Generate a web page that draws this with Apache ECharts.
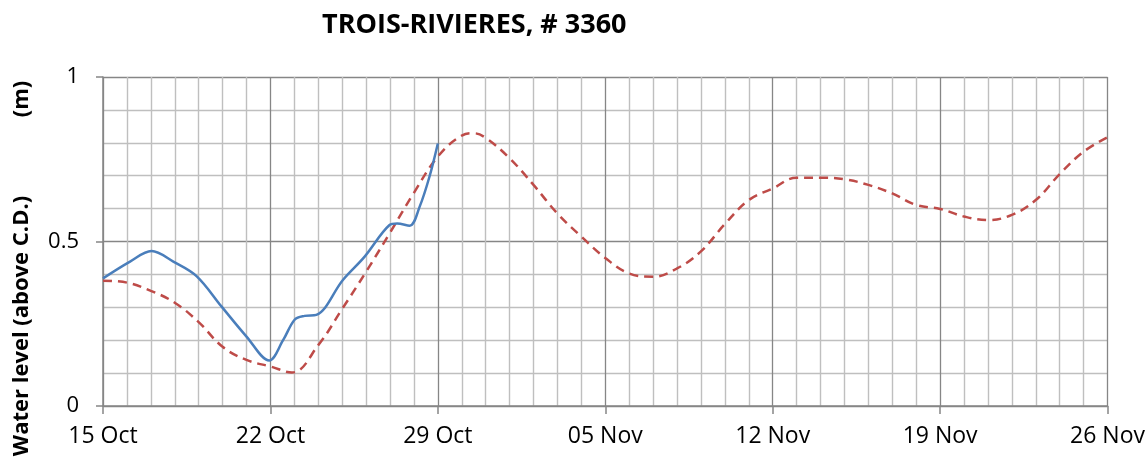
<!DOCTYPE html>
<html>
<head>
<meta charset="utf-8">
<script src="https://cdn.jsdelivr.net/npm/echarts@6/dist/echarts.min.js"></script>
<style>
html,body{margin:0;padding:0;background:#fff;}
#chart{width:1148px;height:461px;}
</style>
</head>
<body>
<div id="chart"></div>
<script>
// Tick labels (every 7 days starting 15 Oct)
const xTickLabels = ['15 Oct', '22 Oct', '29 Oct', '05 Nov', '12 Nov', '19 Nov', '26 Nov'];

// Observed water level (days since 15 Oct, metres above C.D.)
const obsDays   = [0, 1.13, 2.03, 2.94, 3.91, 4.96, 6.0, 6.95, 7.53, 8.02, 8.43, 8.92, 10.03, 10.94, 11.98, 12.3, 12.82, 13.24, 13.65, 14.0];
const obsLevels = [0.388, 0.439, 0.471, 0.439, 0.395, 0.302, 0.211, 0.138, 0.2, 0.263, 0.274, 0.277, 0.383, 0.454, 0.55, 0.555, 0.548, 0.606, 0.697, 0.798];

// Predicted water level (days since 15 Oct)
const predDays   = [0, 1, 2, 3, 4, 5, 6, 7, 7.9, 9, 10, 11, 12, 13, 14, 15, 15.5, 16, 17, 18, 19, 20, 21, 22, 23, 24, 25, 26, 27, 28, 29, 30, 31, 32, 33, 34, 35, 36, 37, 38, 39, 40, 41, 42];
const predLevels = [0.381, 0.375, 0.35, 0.314, 0.255, 0.18, 0.14, 0.12, 0.102, 0.185, 0.295, 0.408, 0.527, 0.648, 0.758, 0.822, 0.829, 0.815, 0.753, 0.672, 0.585, 0.515, 0.45, 0.403, 0.393, 0.418, 0.47, 0.553, 0.626, 0.661, 0.694, 0.694, 0.689, 0.672, 0.646, 0.611, 0.599, 0.576, 0.565, 0.581, 0.626, 0.705, 0.773, 0.817];

const titleText = 'TROIS-RIVIERES, # 3360';
const yTitle = 'Water level (above C.D.)';
const yUnit = '(m)';

const chart = echarts.init(document.getElementById('chart'), null, {renderer: 'canvas'});
const pair = (xs, ys) => xs.map((x, i) => [x, ys[i]]);

const majorColor = '#868686';
const minorColor = '#BFBFBF';
const font = '"Open Sans", "Liberation Sans", sans-serif';

chart.setOption({
  animation: false,
  backgroundColor: '#ffffff',
  title: {
    text: titleText,
    left: 317,
    top: 7,
    textStyle: {fontFamily: font, fontWeight: 'bold', fontSize: 27, color: '#000'}
  },
  graphic: [
    {
      type: 'text', x: 22, y: 326, rotation: Math.PI / 2,
      style: {text: yTitle, font: 'bold 22px ' + font, fill: '#000', align: 'center', verticalAlign: 'middle'}
    },
    {
      type: 'text', x: 22, y: 99, rotation: Math.PI / 2,
      style: {text: yUnit, font: 'bold 22px ' + font, fill: '#000', align: 'center', verticalAlign: 'middle'}
    }
  ],
  grid: {left: 103, right: 39, top: 77, bottom: 55, containLabel: false},
  xAxis: {
    type: 'value', min: 0, max: 42, interval: 7,
    axisLine: {show: true, onZero: false, lineStyle: {color: majorColor, width: 1.5}},
    axisTick: {show: true, length: 8, lineStyle: {color: majorColor, width: 1.5}},
    axisLabel: {formatter: v => xTickLabels[Math.round(v / 7)], fontFamily: font, fontSize: 23, color: '#000', margin: 19},
    splitLine: {show: true, lineStyle: {color: majorColor, width: 1.3}},
    minorTick: {show: false, splitNumber: 7},
    minorSplitLine: {show: true, lineStyle: {color: minorColor, width: 1.4}}
  },
  yAxis: {
    type: 'value', min: 0, max: 1, interval: 0.5,
    axisLine: {show: true, lineStyle: {color: majorColor, width: 1.5}},
    axisTick: {show: true, length: 7, lineStyle: {color: majorColor, width: 1.5}},
    axisLabel: {formatter: v => String(v), fontFamily: font, fontSize: 22, color: '#000', margin: 24},
    splitLine: {show: true, lineStyle: {color: majorColor, width: 1.3}},
    minorTick: {show: false, splitNumber: 5},
    minorSplitLine: {show: true, lineStyle: {color: minorColor, width: 1.4}}
  },
  series: [
    {
      name: 'Observed', type: 'line', data: pair(obsDays, obsLevels),
      showSymbol: false, smooth: 0.35, z: 3,
      lineStyle: {color: '#4A7EBB', width: 2.5}
    },
    {
      name: 'Predicted', type: 'line', data: pair(predDays, predLevels),
      showSymbol: false, smooth: 0.4, z: 2,
      lineStyle: {color: '#BE4B48', width: 2.5, type: [9, 6]}
    }
  ]
});
</script>
</body>
</html>
